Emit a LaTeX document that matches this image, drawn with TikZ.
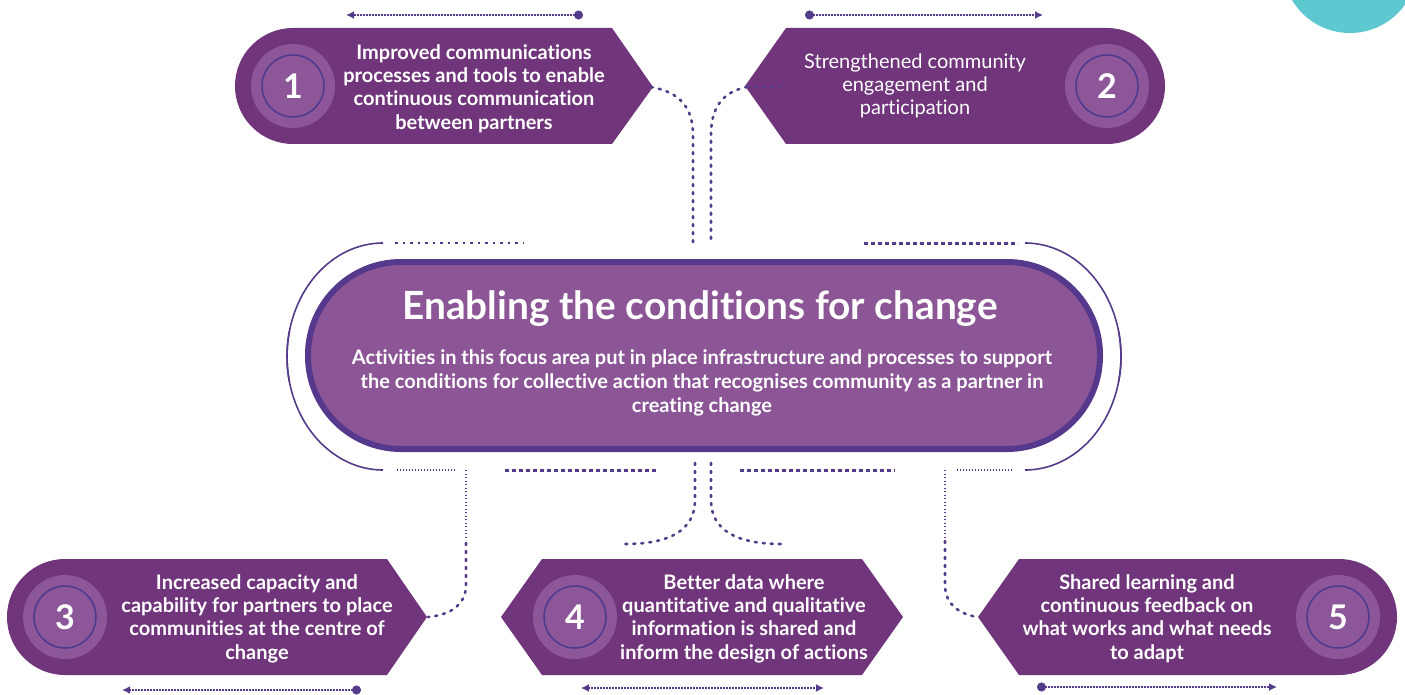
\documentclass[tikz,border=0pt]{standalone}
\usepackage{fontspec}
\setmainfont{Lato}[Ligatures={NoCommon,NoContextual}]
\usetikzlibrary{arrows.meta}
\definecolor{boxc}{HTML}{70357B}
\definecolor{lightc}{HTML}{8C5699}
\definecolor{ringc}{HTML}{4B3A8E}
\definecolor{centerc}{HTML}{8B5596}
\definecolor{borderc}{HTML}{56398C}
\definecolor{linec}{HTML}{553C8B}
\definecolor{tealc}{HTML}{5EC8D0}
\tikzset{
  boxtext/.style={text=white, align=center, font=\fontsize{20}{23.3}\selectfont\bfseries},
  numcircle/.style={circle, fill=lightc, minimum size=84pt, inner sep=0pt},
  numring/.style={circle, draw=ringc, line width=1.5pt, minimum size=62pt, inner sep=0pt, text=white, font=\fontsize{34}{34}\selectfont\bfseries},
  flow/.style={draw=linec, line width=2.6pt, line cap=round, dash pattern=on 2pt off 6pt},
  flowthin/.style={draw=linec, line width=1.3pt, dash pattern=on 1.3pt off 2.2pt},
  dotrow/.style={draw=linec, line width=2.6pt, dash pattern=on 2.5pt off 5pt},
  dashrow/.style={draw=linec, line width=3pt, dash pattern=on 4pt off 3pt},
  finerow/.style={draw=linec, line width=1.6pt, dash pattern=on 1.4pt off 1.6pt},
  bracket/.style={draw=linec, line width=1.6pt},
  pointer/.style={draw=linec, line width=1.6pt, dash pattern=on 1.5pt off 1.5pt},
}
\begin{document}
\begin{tikzpicture}[x=1pt,y=-1pt]
\useasboundingbox[fill=white] (0,0) rectangle (1405,695);
% teal corner circle
\begin{scope}
\clip (0,0) rectangle (1405,695);
\fill[tealc] (1350,-34.5) circle[radius=67.5];
\end{scope}

% ---------- box 1 ----------
\fill[boxc] (612,28) -- (653,87) -- (612,144) -- (293,144) arc[start angle=90, end angle=270, radius=58] -- cycle;
\coordinate (tip1) at (651,87);
\node[numcircle] (c1) at (293,86) {};
\node[numring] (n1) at (293,86) {1};
\node[boxtext] (t1) at (474,88.5) {Improved communications\\processes and tools to enable\\continuous communication\\between partners};

% ---------- box 2 ----------
\fill[boxc] (786,28) -- (1107,28) arc[start angle=270, end angle=450, radius=58] -- (786,144) -- (745,86) -- cycle;
\coordinate (tip2) at (747,87);
\coordinate (in2) at (780,87);
\node[numcircle] (c2) at (1107,86) {};
\node[numring] (n2) at (1107,86) {2};
\node[boxtext, font=\fontsize{20}{23}\selectfont] (t2) at (915,86) {Strengthened community\\engagement and\\participation};

% ---------- box 3 ----------
\fill[boxc] (387,559) -- (427,617) -- (387,675) -- (65,675) arc[start angle=90, end angle=270, radius=58] -- cycle;
\coordinate (tip3) at (428,617);
\node[numcircle] (c3) at (65,617) {};
\node[numring] (n3) at (65,617) {3};
\node[boxtext] (t3) at (257,618.5) {Increased capacity and\\capability for partners to place\\communities at the centre of\\change};

% ---------- box 4 ----------
\fill[boxc] (542,559) -- (862,559) -- (903,617) -- (862,675) -- (542,675) -- (501,617) -- cycle;
\node[numcircle] (c4) at (575,617) {};
\node[numring] (n4) at (575,617) {4};
\node[boxtext] (t4) at (744,618.5) {Better data where\\quantitative and qualitative\\information is shared and\\inform the design of actions};

% ---------- box 5 ----------
\fill[boxc] (1019,559) -- (1339,559) arc[start angle=270, end angle=450, radius=58] -- (1019,675) -- (978,617) -- cycle;
\coordinate (tip5) at (977,617);
\node[numcircle] (c5) at (1338,617) {};
\node[numring] (n5) at (1338,617) {5};
\node[boxtext] (t5) at (1147,618.5) {Shared learning and\\continuous feedback on\\what works and what needs\\to adapt};

% ---------- centre ----------
\node[draw=borderc, line width=6pt, fill=centerc, rounded corners=93pt, minimum width=792pt, minimum height=187pt, inner sep=0pt] (centre) at (704,355.5) {};
\node[text=white, font=\fontsize{38.8}{44}\selectfont\bfseries] (title) at (700,309) {Enabling the conditions for change};
\node[text=white, align=center, font=\fontsize{20}{24}\selectfont\bfseries] (body) at (702,383) {Activities in this focus area put in place infrastructure and processes to support\\the conditions for collective action that recognises community as a partner in\\creating change};

% brackets around centre
\draw[bracket] (383,243) arc[start angle=270, end angle=167, x radius=96, y radius=113.5];
\draw[bracket] (383,470) arc[start angle=90, end angle=193, x radius=96, y radius=113.5];
\draw[bracket] (1025,243) arc[start angle=270, end angle=373, x radius=96, y radius=113.5];
\draw[bracket] (1025,470) arc[start angle=90, end angle=-13, x radius=96, y radius=113.5];

% horizontal dotted rows
\coordinate (r1a) at (395,243); \coordinate (r1b) at (523,243);
\coordinate (r2a) at (864,243); \coordinate (r2b) at (1018,243);
\coordinate (r3a) at (397,470); \coordinate (r3b) at (455,470);
\coordinate (r4a) at (505,470); \coordinate (r4b) at (658,470);
\coordinate (r5a) at (740,470); \coordinate (r5b) at (895,470);
\coordinate (r6a) at (957,470); \coordinate (r6b) at (1013,470);
\draw[dotrow] (r1a) -- (r1b);
\draw[dashrow] (r2a) -- (r2b);
\draw[finerow] (r3a) -- (r3b);
\draw[dashrow] (r4a) -- (r4b);
\draw[dashrow] (r5a) -- (r5b);
\draw[finerow] (r6a) -- (r6b);

% flows from top boxes
\coordinate (v1) at (693,243);
\coordinate (v2) at (711,243);
\draw[flow] (tip1) .. controls (680,92) and (693,108) .. (693,135) -- (v1);
\draw[flow] (tip2) .. controls (722,92) and (711,108) .. (711,135) -- (v2);
\draw[flow] (tip2) -- (in2);

% flows to box 4
\coordinate (b4l) at (695,463); \coordinate (e4l) at (625,544);
\coordinate (b4r) at (711,463); \coordinate (e4r) at (782,544);
\draw[flow] (b4l) -- (695,500) .. controls (695,530) and (670,544) .. (e4l);
\draw[flow] (b4r) -- (711,500) .. controls (711,530) and (736,544) .. (e4r);

% flows to boxes 3 and 5
\coordinate (b3) at (466,470);
\coordinate (b5) at (945,470);
\draw[flowthin] (b3) -- (466,540);
\draw[flow] (466,543) -- (466,585) .. controls (466,605) and (450,615) .. (tip3);
\draw[flowthin] (b5) -- (945,537);
\draw[flow] (945,541) -- (945,585) .. controls (945,605) and (960,614) .. (tip5);

% pointers above / below boxes
\coordinate (p1a) at (583,15); \coordinate (p1b) at (346,15);
\coordinate (p2a) at (805,15); \coordinate (p2b) at (1043,15);
\coordinate (p3a) at (361,690); \coordinate (p3b) at (122,690);
\coordinate (p4a) at (581,688); \coordinate (p4b) at (824,688);
\coordinate (p5a) at (1037,687); \coordinate (p5b) at (1277,687);
\draw[pointer, {Circle[length=9pt]}-{Latex[length=8pt,width=8pt]}] (p1a) -- (p1b);
\draw[pointer, {Circle[length=9pt]}-{Latex[length=8pt,width=8pt]}] (p2a) -- (p2b);
\draw[pointer, {Circle[length=9pt]}-{Latex[length=8pt,width=8pt]}] (p3a) -- (p3b);
\draw[pointer, {Latex[length=8pt,width=8pt]}-{Latex[length=8pt,width=8pt]}] (p4a) -- (p4b);
\draw[pointer, {Circle[length=9pt]}-{Latex[length=8pt,width=8pt]}] (p5a) -- (p5b);
\end{tikzpicture}
\end{document}
